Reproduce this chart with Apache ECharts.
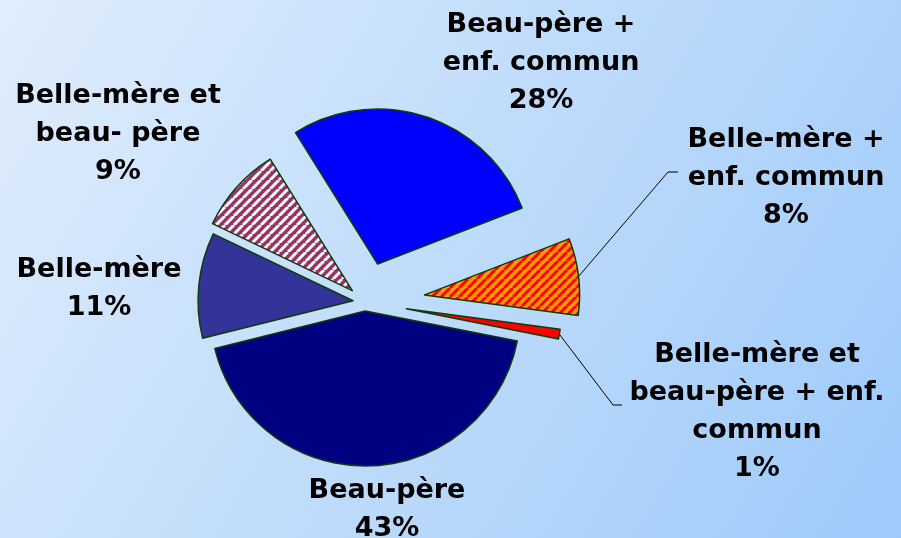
<!DOCTYPE html>
<html>
<head>
<meta charset="utf-8">
<script src="https://cdn.jsdelivr.net/npm/echarts@6/dist/echarts.min.js"></script>
<style>
html, body { margin: 0; padding: 0; }
#chart-box { width: 901px; height: 538px; }
</style>
</head>
<body>
<div id="chart-box"></div>
<script>
// data
var categories = ["Beau-père +\nenf. commun", "Belle-mère +\nenf. commun", "Belle-mère et\nbeau-père + enf.\ncommun", "Beau-père", "Belle-mère", "Belle-mère et\nbeau- père"];
var percents = [28, 8, 1, 43, 11, 9];

// look
var sliceColors = ["#0000ff", "#ff9900", "#ff0000", "#000080", "#333399", "#993366"];
var stripeColors = [null, "#ff0000", null, null, null, "#ffffff"];
var explode = [40, 60, 42, 9, 12, 17];
var labelPos = [[541, 63], [786, 178], [757, 412], [387, 510], [99, 289], [118, 134]];
var guideEnds = [null, [[668, 172], [678, 172]], [[613, 405], [622, 405]], null, null, null];
var center = [365, 302], radius = 155, startAngle = 122;

var myChart = echarts.init(document.getElementById("chart-box"));

// middle angle of each slice (radians)
var total = percents.reduce(function (a, b) { return a + b; }, 0);
var midAngles = [];
var acc = 0;
percents.forEach(function (v) {
    var a0 = startAngle - 360 * acc / total;
    acc += v;
    var a1 = startAngle - 360 * acc / total;
    midAngles.push((a0 + a1) / 2 * Math.PI / 180);
});

// diagonal "/" stripes as a repeating tile
function fillFor(i) {
    if (!stripeColors[i]) return sliceColors[i];
    var p = 9;
    var cv = document.createElement("canvas");
    cv.width = p;
    cv.height = p;
    var ctx = cv.getContext("2d");
    ctx.fillStyle = sliceColors[i];
    ctx.fillRect(0, 0, p, p);
    ctx.strokeStyle = stripeColors[i];
    ctx.lineWidth = 3;
    for (var k = -1; k <= 1; k++) {
        ctx.beginPath();
        ctx.moveTo(k * p, p);
        ctx.lineTo(k * p + p, 0);
        ctx.stroke();
    }
    return { image: cv, repeat: "repeat" };
}

// one pie per slice, its centre pushed out along the slice middle (exploded pie)
var series = percents.map(function (v, i) {
    var c = [center[0] + explode[i] * Math.cos(midAngles[i]), center[1] - explode[i] * Math.sin(midAngles[i])];
    return {
        type: "pie",
        center: c,
        radius: radius,
        startAngle: startAngle,
        clockwise: true,
        avoidLabelOverlap: false,
        selectedMode: false,
        animation: false,
        emphasis: { disabled: true },
        itemStyle: { borderColor: "#0b3d0b", borderWidth: 1.5 },
        label: {
            formatter: "{b}\n{c}%",
            fontFamily: "DejaVu Sans",
            fontWeight: "bold",
            fontSize: 27,
            lineHeight: 38,
            color: "#000",
            align: "center"
        },
        labelLine: { lineStyle: { color: "#000", width: 1 } },
        labelLayout: function (params) {
            var out = { x: labelPos[i][0], y: labelPos[i][1], align: "center", verticalAlign: "middle" };
            if (guideEnds[i]) {
                var p0 = [c[0] + radius * Math.cos(midAngles[i]), c[1] - radius * Math.sin(midAngles[i])];
                out.labelLinePoints = [p0].concat(guideEnds[i]);
            }
            return out;
        },
        data: percents.map(function (p, j) {
            var item = { name: categories[j], value: p };
            if (j === i) {
                item.itemStyle = { color: fillFor(j) };
                item.label = { show: true };
                item.labelLine = { show: !!guideEnds[j] };
            } else {
                item.itemStyle = { color: "none", borderWidth: 0 };
                item.label = { show: false };
                item.labelLine = { show: false };
            }
            return item;
        })
    };
});

var option = {
    backgroundColor: {
        type: "linear", x: 0, y: 0, x2: 1, y2: 1,
        colorStops: [{ offset: 0, color: "#e0edfc" }, { offset: 1, color: "#9dcafa" }]
    },
    animation: false,
    tooltip: { show: false },
    series: series
};

myChart.setOption(option);
</script>
</body>
</html>
